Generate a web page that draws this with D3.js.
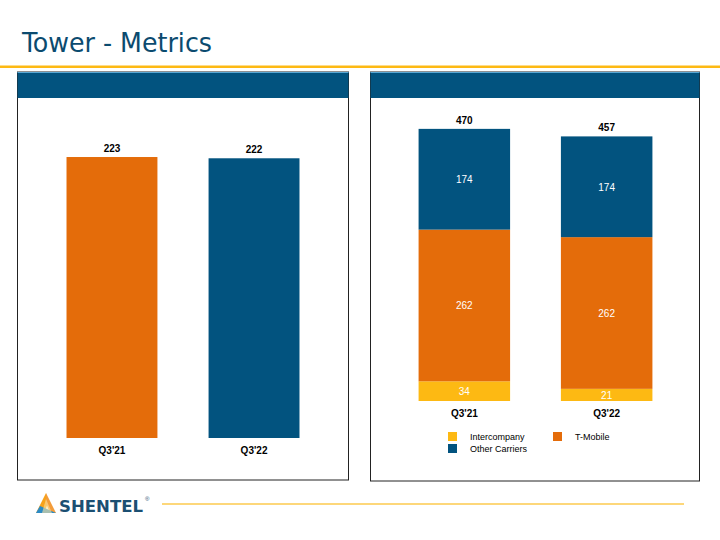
<!DOCTYPE html>
<html><head><meta charset="utf-8">
<script src="https://cdn.jsdelivr.net/npm/d3@7/dist/d3.min.js"></script>
<style>body{margin:0;background:#fff}svg{display:block}</style>
</head><body>
<svg id="c" width="720" height="540"></svg>
<script>
const title = "Tower - Metrics";
const categories = ["Q3'21", "Q3'22"];
const leftValues = [223, 222];
const seriesNames = ["Intercompany", "T-Mobile", "Other Carriers"];
const intercompany = [34, 21];
const tmobile = [262, 262];
const otherCarriers = [174, 174];
const totals = [470, 457];

const C = {blue:"#02537f", orange:"#e46c0a", yellow:"#fdb913", title:"#0b4b6f"};
const svg = d3.select("#c");
const font = "'Liberation Sans', Arial, sans-serif";

// title
svg.append("text").attr("x",22).attr("y",52).text(title)
  .attr("font-family","'DejaVu Sans Condensed','DejaVu Sans',sans-serif")
  .attr("font-size",27).attr("fill",C.title)
  .attr("textLength",190).attr("lengthAdjust","spacingAndGlyphs");
svg.append("rect").attr("x",0).attr("y",65.5).attr("width",720).attr("height",2.5).attr("fill",C.yellow);

// panels
function panel(x,w,h){
  svg.append("rect").attr("x",x).attr("y",72).attr("width",w).attr("height",h)
    .attr("fill","#fff").attr("stroke","#222").attr("stroke-width",1);
  svg.append("rect").attr("x",x).attr("y",72).attr("width",w).attr("height",26).attr("fill",C.blue);
  svg.append("line").attr("x1",x).attr("x2",x+w).attr("y1",72.5).attr("y2",72.5).attr("stroke","#5aa9d6").attr("stroke-width",1);
}
panel(17.5,331,408);
panel(370.5,329,409);

// left chart
const xL = d3.scaleBand().domain(categories).range([31,335]).paddingInner(0.36).paddingOuter(0.25);
const yL = d3.scaleLinear().domain([0,250]).range([438,123]);
const leftColors = [C.orange, C.blue];
const gL = svg.append("g");
gL.selectAll("rect.b").data(categories).join("rect")
  .attr("x",d=>xL(d)).attr("width",xL.bandwidth())
  .attr("y",(d,i)=>yL(leftValues[i])).attr("height",(d,i)=>yL(0)-yL(leftValues[i]))
  .attr("fill",(d,i)=>leftColors[i]);
gL.selectAll("text.v").data(categories).join("text")
  .attr("x",d=>xL(d)+xL.bandwidth()/2).attr("y",(d,i)=>yL(leftValues[i])-5)
  .attr("text-anchor","middle").attr("font-family",font).attr("font-weight","bold").attr("font-size",10)
  .text((d,i)=>leftValues[i]);
const axL = svg.append("g").attr("transform",`translate(0,${yL(0)})`)
  .call(d3.axisBottom(xL).tickSize(0).tickPadding(9));
axL.select(".domain").remove();
axL.selectAll("text").attr("font-family",font).attr("font-weight","bold").attr("font-size",10).attr("fill","#000");

// right chart
const xR = d3.scaleBand().domain(categories).range([383,688]).paddingInner(0.357).paddingOuter(0.25);
const yR = d3.scaleLinear().domain([0,500]).range([401,111.5]);
const rows = categories.map((c,i)=>({cat:c, "Intercompany":intercompany[i], "T-Mobile":tmobile[i], "Other Carriers":otherCarriers[i]}));
const stack = d3.stack().keys(seriesNames)(rows);
const sColors = {"Intercompany":C.yellow, "T-Mobile":C.orange, "Other Carriers":C.blue};
const gR = svg.append("g");
stack.forEach(s=>{
  gR.append("g").selectAll("rect").data(s).join("rect")
    .attr("x",d=>xR(d.data.cat)).attr("width",xR.bandwidth())
    .attr("y",d=>yR(d[1])).attr("height",d=>yR(d[0])-yR(d[1]))
    .attr("fill",sColors[s.key]);
  gR.append("g").selectAll("text").data(s).join("text")
    .attr("x",d=>xR(d.data.cat)+xR.bandwidth()/2).attr("y",d=>(yR(d[0])+yR(d[1]))/2+4)
    .attr("text-anchor","middle").attr("font-family",font).attr("font-size",10).attr("fill","#fff")
    .text(d=>d.data[s.key]);
});
gR.selectAll("text.t").data(categories).join("text")
  .attr("x",d=>xR(d)+xR.bandwidth()/2).attr("y",(d,i)=>yR(totals[i])-5)
  .attr("text-anchor","middle").attr("font-family",font).attr("font-weight","bold").attr("font-size",10)
  .text((d,i)=>totals[i]);
const axR = svg.append("g").attr("transform",`translate(0,${yR(0)})`)
  .call(d3.axisBottom(xR).tickSize(0).tickPadding(9));
axR.select(".domain").remove();
axR.selectAll("text").attr("font-family",font).attr("font-weight","bold").attr("font-size",10).attr("fill","#000");

// legend
const legPos = [[448,432],[553,432],[448,444]];
const leg = svg.append("g");
seriesNames.forEach((n,i)=>{
  leg.append("rect").attr("x",legPos[i][0]).attr("y",legPos[i][1]).attr("width",9).attr("height",9).attr("fill",sColors[n]);
  leg.append("text").attr("x",legPos[i][0]+22).attr("y",legPos[i][1]+8).text(n)
    .attr("font-family",font).attr("font-size",9).attr("fill","#000");
});

// footer logo
const lg = svg.append("g");
lg.append("polygon").attr("points","46,493 36,513 44,513 48,503").attr("fill","#f7a21b");
lg.append("polygon").attr("points","46,493 56,513 50,513 46,503").attr("fill","#f39c3a");
lg.append("polygon").attr("points","40,506 56,513 36,513").attr("fill","#2b8bc6");
lg.append("polygon").attr("points","46,499 52,513 42,513").attr("fill","#fde2a0").attr("opacity",0.6);
lg.append("text").attr("x",59).attr("y",512).text("SHENTEL")
  .attr("font-family","'DejaVu Sans',sans-serif").attr("font-weight","bold").attr("font-size",15)
  .attr("fill","#1b4f72").attr("textLength",84).attr("lengthAdjust","spacingAndGlyphs");
lg.append("text").attr("x",145).attr("y",501).text("®").attr("font-family",font).attr("font-size",6).attr("fill","#1b4f72");
svg.append("rect").attr("x",162).attr("y",503).attr("width",522).attr("height",2).attr("fill","#fdd77a");
</script>
</body></html>
